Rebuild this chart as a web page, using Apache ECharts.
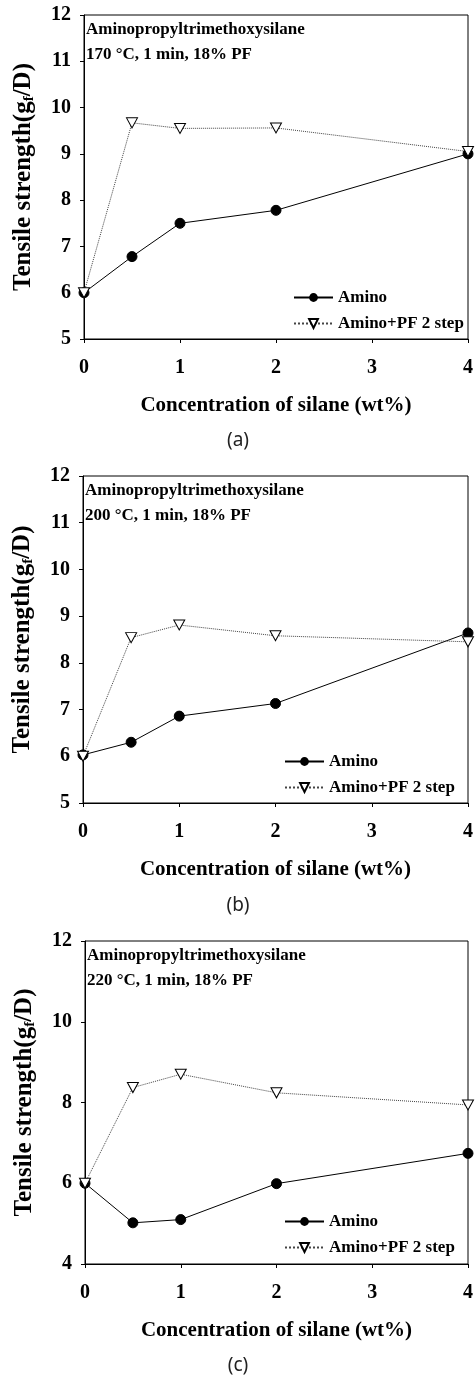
<!DOCTYPE html>
<html>
<head>
<meta charset="utf-8">
<title>Tensile strength vs silane concentration</title>
<script src="https://cdn.jsdelivr.net/npm/echarts@6/dist/echarts.min.js"></script>
<style>
  html, body { margin: 0; padding: 0; background: #fff; }
  #main { width: 476px; height: 1382px; }
</style>
</head>
<body>
<div id="main"></div>
<script>
// data
var concentration = [0, 0.5, 1, 2, 4];
var aminoA = [6.0, 6.78, 7.5, 7.78, 9.0];
var stepA  = [6.0, 9.67, 9.55, 9.56, 9.05];
var aminoB = [6.03, 6.3, 6.86, 7.13, 8.64];
var stepB  = [6.0, 8.54, 8.81, 8.58, 8.45];
var aminoC = [6.0, 5.02, 5.1, 5.99, 6.74];
var stepC  = [6.0, 8.37, 8.7, 8.24, 7.94];
var conditions = ['170 \u00B0C, 1 min, 18% PF', '200 \u00B0C, 1 min, 18% PF', '220 \u00B0C, 1 min, 18% PF'];
var panelTags = ['(a)', '(b)', '(c)'];
var yMin = [5, 5, 4];
var yStep = [1, 1, 2];

var serif = '"Liberation Serif", "Times New Roman", serif';
var tri = 'path://M0,0 L10,0 L5,9 Z';

// panel boxes
var grids = [
  { left: 84, top: 15, width: 387, height: 324 },
  { left: 83, top: 476, width: 390, height: 327 },
  { left: 85, top: 941, width: 385, height: 323 }
];
var legendPos = [
  { left: 288, top: 284 },
  { left: 279, top: 748 },
  { left: 279, top: 1208 }
];

var myChart = echarts.init(document.getElementById('main'));

var xAxes = [], yAxes = [], series = [], legends = [], graphics = [];
var aminoSets = [aminoA, aminoB, aminoC];
var stepSets = [stepA, stepB, stepC];

for (var i = 0; i < 3; i++) {
  xAxes.push({
    type: 'value', gridIndex: i, min: 0, max: 4, interval: 1,
    name: 'Concentration of silane (wt%)',
    nameLocation: 'middle', nameGap: 56,
    nameTextStyle: { fontFamily: serif, fontWeight: 'bold', fontSize: 21, color: '#000' },
    axisLine: { lineStyle: { color: '#000', width: 1 } },
    axisTick: { show: true, length: 4, lineStyle: { color: '#000' } },
    axisLabel: { margin: 19, fontFamily: serif, fontWeight: 'bold', fontSize: 20, color: '#000' },
    splitLine: { show: false }
  });
  yAxes.push({
    type: 'value', gridIndex: i, min: yMin[i], max: 12, interval: yStep[i],
    name: '{t|Tensile strength(g}{s|f}{t|/D)}',
    nameLocation: 'middle', nameGap: 47,
    nameTextStyle: {
      rich: {
        t: { fontFamily: serif, fontWeight: 'bold', fontSize: 25, color: '#000' },
        s: { fontFamily: serif, fontWeight: 'bold', fontSize: 15, color: '#000', padding: [12, 0, 0, 0] }
      }
    },
    axisLine: { show: true, lineStyle: { color: '#000', width: 1 } },
    axisTick: { show: true, length: 4, lineStyle: { color: '#000' } },
    axisLabel: { margin: 13, fontFamily: serif, fontWeight: 'bold', fontSize: 20, color: '#000' },
    splitLine: { show: false }
  });

  series.push({
    name: 'Amino', type: 'line', xAxisIndex: i, yAxisIndex: i,
    data: concentration.map(function (c, k) { return [c, aminoSets[i][k]]; }),
    symbol: 'circle', symbolSize: 10,
    lineStyle: { color: '#000', width: 1 },
    itemStyle: { color: '#000', borderColor: '#000' },
    animation: false
  });
  series.push({
    name: 'Amino+PF 2 step', type: 'line', xAxisIndex: i, yAxisIndex: i,
    data: concentration.map(function (c, k) { return [c, stepSets[i][k]]; }),
    symbol: tri, symbolSize: [11, 10],
    lineStyle: { color: '#444', width: 1, type: 'dotted' },
    itemStyle: { color: '#fff', borderColor: '#000', borderWidth: 1 },
    animation: false
  });

  legends.push({
    orient: 'vertical', left: legendPos[i].left, top: legendPos[i].top,
    itemWidth: 39, itemHeight: 11, itemGap: 9,
    selectedMode: false,
    data: ['Amino', 'Amino+PF 2 step'],
    textStyle: { fontFamily: serif, fontWeight: 'bold', fontSize: 17, color: '#000' }
  });

  // annotation inside the plot
  graphics.push({
    type: 'text', left: grids[i].left + 2, top: grids[i].top + 2,
    style: {
      text: 'Aminopropyltrimethoxysilane\n' + conditions[i],
      font: 'bold 17px ' + serif, fill: '#000', lineHeight: 25
    }
  });
  // panel tag
  graphics.push({
    type: 'text', left: 'center', top: [431, 896, 1356][i],
    style: { text: panelTags[i], font: '19px "Noto Sans", sans-serif', fill: '#222' }
  });
}

var option = {
  backgroundColor: '#fff',
  animation: false,
  grid: grids.map(function (g) {
    return { left: g.left, top: g.top, width: g.width, height: g.height, show: true,
             borderColor: '#000', borderWidth: 1, backgroundColor: 'transparent' };
  }),
  xAxis: xAxes,
  yAxis: yAxes,
  legend: legends,
  series: series,
  graphic: graphics
};

myChart.setOption(option);
</script>
</body>
</html>
